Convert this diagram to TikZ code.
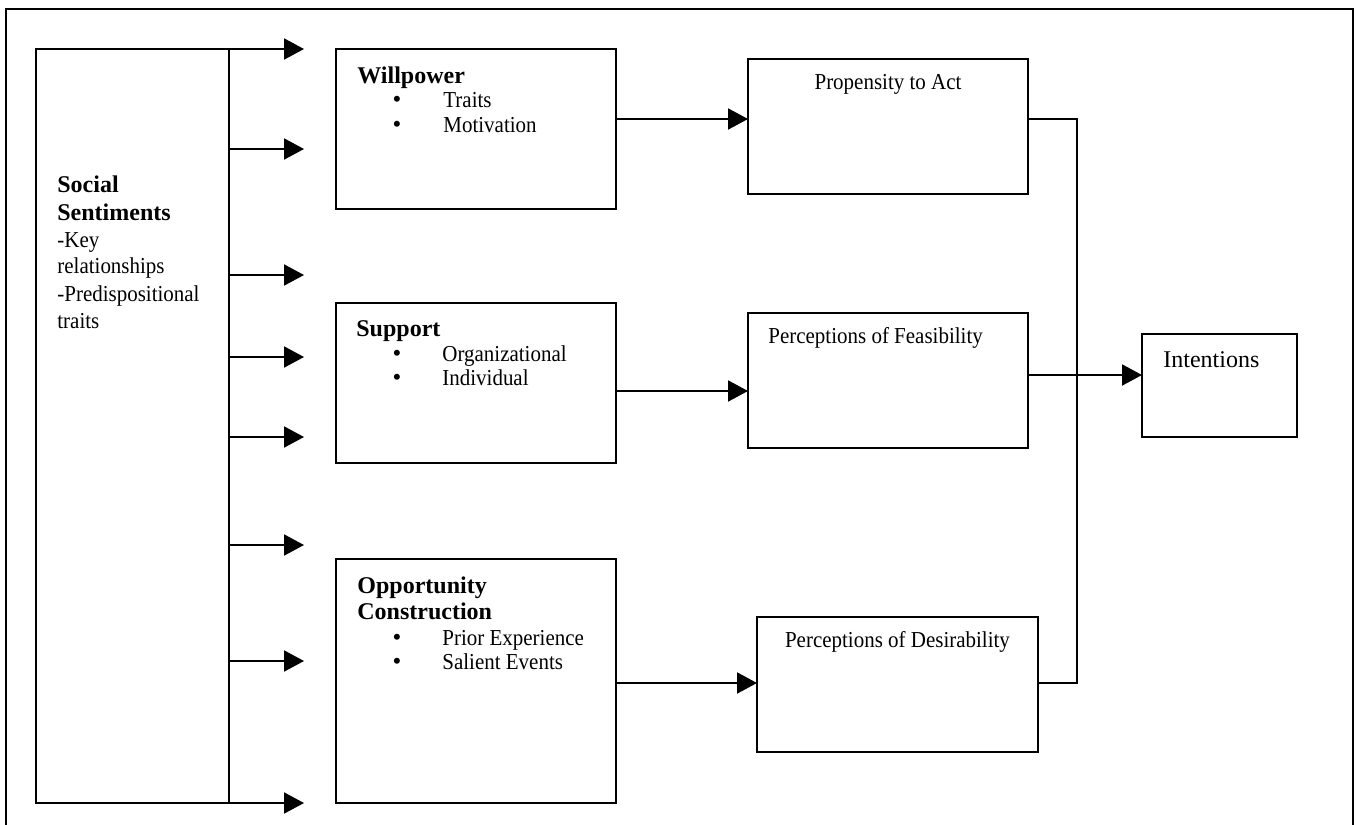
\documentclass[tikz,border=0pt]{standalone}
\usepackage{fontspec}
\setmainfont{Liberation Serif}
\newfontfamily\narrowserif{Liberation Serif}[FakeStretch=0.92]
\usetikzlibrary{arrows.meta}

% boxes are given by their corners (x1,y1) and (x2,y2), in px-like units
\newcommand\cornerbox[5]{%
  \node[box, anchor=north west,
        minimum width={(#4-#2)*0.5pt}, minimum height={(#5-#3)*0.5pt}]
        (#1) at (#2,#3) {};}

\begin{document}
\begin{tikzpicture}[x=0.5pt, y=-0.5pt,
  box/.style={draw, rectangle, line width=1pt, inner sep=0pt, outer sep=0pt},
  ln/.style={line width=1pt},
  arr/.style={line width=1pt, -{Triangle[length=10pt, width=10.5pt]}},
  hd/.style={inner sep=0pt, anchor=base west, font=\fontsize{12}{14}\selectfont\bfseries},
  tx/.style={inner sep=0pt, anchor=base west, font=\narrowserif\fontsize{11.4}{13}\selectfont},
  big/.style={inner sep=0pt, anchor=base west, font=\fontsize{12}{14}\selectfont},
  bul/.style={inner sep=0pt, anchor=base, font=\fontsize{12.5}{14}\selectfont}
]
\useasboundingbox (0,0) rectangle (1356,825);

% page frame (open at the bottom)
\draw[ln] (6,840) -- (6,9) -- (1353,9) -- (1353,840);

% ---- boxes
\cornerbox{ss}{36}{49}{229}{803}
\cornerbox{will}{336}{49}{616}{209}
\cornerbox{sup}{336}{303}{616}{463}
\cornerbox{opp}{336}{559}{616}{803}
\cornerbox{prop}{748}{59}{1028}{194}
\cornerbox{feas}{748}{313}{1028}{448}
\cornerbox{des}{757}{617}{1038}{752}
\cornerbox{int}{1142}{334}{1297}{437}

% ---- texts: social sentiments
\node[hd] (ss1) at (57,192) {Social};
\node[hd] (ss2) at (57,220) {Sentiments};
\node[tx] (ss3) at (57,247) {-Key};
\node[tx] (ss4) at (57,273) {relationships};
\node[tx] (ss5) at (57,301) {-Predispositional};
\node[tx] (ss6) at (57,328) {traits};

% willpower
\node[hd]  (w0) at (357,83) {Willpower};
\node[bul] (wb1) at (397,107) {\textbullet};
\node[tx]  (w1) at (443,107) {Traits};
\node[bul] (wb2) at (397,132) {\textbullet};
\node[tx]  (w2) at (443,132) {Motivation};

% support
\node[hd]  (s0) at (356,336) {Support};
\node[bul] (sb1) at (397,361) {\textbullet};
\node[tx]  (s1) at (442,361) {Organizational};
\node[bul] (sb2) at (397,385) {\textbullet};
\node[tx]  (s2) at (442,385) {Individual};

% opportunity construction
\node[hd]  (o0) at (357,593) {Opportunity};
\node[hd]  (o1) at (357,619) {Construction};
\node[bul] (ob1) at (397,645) {\textbullet};
\node[tx]  (o2) at (442,645) {Prior Experience};
\node[bul] (ob2) at (397,669) {\textbullet};
\node[tx]  (o3) at (442,669) {Salient Events};

% right-hand boxes
\node[tx, anchor=base] (pt) at (prop.center|-0,89) {Propensity to Act};
\node[tx] (ft) at (768,343) {Perceptions of Feasibility};
\node[tx, anchor=base] (dt) at (des.center|-0,647) {Perceptions of Desirability};
\node[big] (it) at (1163,367) {Intentions};

% ---- arrows out of the social sentiments box
\coordinate (a1) at (304,49);
\coordinate (a2) at (304,149);
\coordinate (a3) at (304,275);
\coordinate (a4) at (304,357);
\coordinate (a5) at (304,437);
\coordinate (a6) at (304,545);
\coordinate (a7) at (304,661);
\coordinate (a8) at (304,803);
\draw[arr] (ss.north east) -- (a1);
\foreach \k in {2,...,7} \draw[arr] (ss.east|-a\k) -- (a\k);
\draw[arr] (ss.south east) -- (a8);

% ---- middle column to right column
\coordinate (r1) at (0,119);
\coordinate (r2) at (0,391);
\coordinate (r3) at (0,683);
\draw[arr] (will.east|-r1) -- (prop.west|-r1);
\draw[arr] (sup.east|-r2) -- (feas.west|-r2);
\draw[arr] (opp.east|-r3) -- (des.west|-r3);

% ---- collecting line and arrow into intentions
\coordinate (jt) at (1077,119);
\coordinate (jb) at (1077,683);
\draw[ln] (prop.east|-jt) -- (jt) -- (jb) -- (des.east|-jb);
\coordinate (r4) at (0,375);
\draw[arr] (feas.east|-r4) -- (int.west|-r4);

\end{tikzpicture}
\end{document}
